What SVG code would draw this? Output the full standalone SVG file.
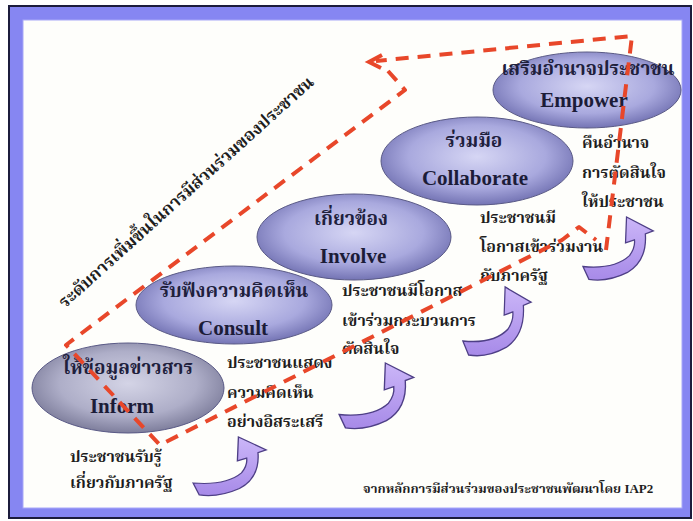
<svg xmlns="http://www.w3.org/2000/svg" xmlns:xlink="http://www.w3.org/1999/xlink" width="693" height="521" viewBox="0 0 693 521">
<defs>
<radialGradient id="gEl" cx="50%" cy="45%" r="55%">
<stop offset="0" stop-color="#d6d6f4"/>
<stop offset="0.65" stop-color="#a9a9de"/>
<stop offset="1" stop-color="#7474b4"/>
</radialGradient>
<radialGradient id="gGray" cx="50%" cy="45%" r="55%">
<stop offset="0" stop-color="#d4d4e6"/>
<stop offset="0.65" stop-color="#aeaec8"/>
<stop offset="1" stop-color="#7e7e9c"/>
</radialGradient>
<linearGradient id="gArr" x1="0" y1="0" x2="0" y2="1">
<stop offset="0" stop-color="#cbb6f8"/>
<stop offset="1" stop-color="#a78ae8"/>
</linearGradient>
<path id="arrow" d="M3,50 Q35,53 50,39 Q56,31 55,23 L46,26 L47,0 L74,14 L66,17 Q68,44 48,56 Q28,66 9,63 Z"/>
</defs>
<style>
.el{stroke:#5a5a86;stroke-width:1}
.th{font-family:"Liberation Serif","Noto Serif Thai","Noto Sans Thai",Garuda,Loma,serif;font-weight:bold}
.ttl{font-size:19px;fill:#20203c;text-anchor:middle}
.en{font-family:"Liberation Serif","Times New Roman",serif;font-weight:bold;font-size:21px;fill:#1c1c38;text-anchor:middle}
.ds{font-size:16px;fill:#1e1e1e}
.dash{fill:none;stroke:#e8472a;stroke-width:4;stroke-dasharray:13 9;stroke-linejoin:round}
.arr{fill:url(#gArr);stroke:#4e3f86;stroke-width:1.3}
</style>
<rect x="9" y="6" width="682" height="512" fill="#8686f2" stroke="#1c1c3c" stroke-width="2"/>
<rect x="23" y="20" width="659" height="488" fill="#fefefb" stroke="#a8a8f8" stroke-width="1"/>

<g id="inform">
<ellipse class="el" cx="128" cy="388" rx="96" ry="45" fill="url(#gGray)"/>
<text class="th ttl" x="128" y="374">ให้ข้อมูลข่าวสาร</text>
<text class="en" x="122" y="413">Inform</text>
<text class="th ds" x="70" y="462">ประชาชนรับรู้</text>
<text class="th ds" x="70" y="488">เกี่ยวกับภาครัฐ</text>
</g>
<g id="consult">
<ellipse class="el" cx="234" cy="305" rx="98" ry="39" fill="url(#gEl)"/>
<text class="th ttl" x="234" y="297">รับฟังความคิดเห็น</text>
<text class="en" x="233" y="335">Consult</text>
<text class="th ds" x="227" y="368">ประชาชนแสดง</text>
<text class="th ds" x="227" y="398">ความคิดเห็น</text>
<text class="th ds" x="227" y="427">อย่างอิสระเสรี</text>
</g>
<g id="involve">
<ellipse class="el" cx="354" cy="237" rx="97" ry="43" fill="url(#gEl)"/>
<text class="th ttl" x="351" y="225">เกี่ยวข้อง</text>
<text class="en" x="353" y="263">Involve</text>
<text class="th ds" x="342" y="296">ประชาชนมีโอกาส</text>
<text class="th ds" x="342" y="326">เข้าร่วมกระบวนการ</text>
<text class="th ds" x="342" y="354">ตัดสินใจ</text>
</g>
<g id="collaborate">
<ellipse class="el" cx="477" cy="161" rx="96" ry="44" fill="url(#gEl)"/>
<text class="th ttl" x="474" y="147">ร่วมมือ</text>
<text class="en" x="475" y="185">Collaborate</text>
<text class="th ds" x="480" y="223">ประชาชนมี</text>
<text class="th ds" x="480" y="252">โอกาสเข้าร่วมงาน</text>
<text class="th ds" x="480" y="281">กับภาครัฐ</text>
</g>
<g id="empower">
<ellipse class="el" cx="587" cy="90" rx="94" ry="38" fill="url(#gEl)"/>
<text class="th ttl" x="588" y="75">เสริมอำนาจประชาชน</text>
<text class="en" x="584" y="107">Empower</text>
<text class="th ds" x="582" y="148">คืนอำนาจ</text>
<text class="th ds" x="582" y="178">การตัดสินใจ</text>
<text class="th ds" x="582" y="207">ให้ประชาชน</text>
</g>

<g id="connectors">
<path class="dash" d="M388,71 L405,90 L66,345 L160,445 L562,240 L579,227 L596,240"/>
<path class="dash" d="M606,250 L632,36 L376,61"/>
<path d="M382,55 L369,62 L381,68" fill="none" stroke="#e8472a" stroke-width="4" stroke-linejoin="miter"/>
<use xlink:href="#arrow" class="arr" transform="translate(190,437) scale(1.03,0.92)"/>
<use xlink:href="#arrow" class="arr" transform="translate(336,363) scale(1.05,1.03)"/>
<use xlink:href="#arrow" class="arr" transform="translate(460,287) scale(0.96,1.08)"/>
<use xlink:href="#arrow" class="arr" transform="translate(580,217) scale(0.99,0.99)"/>
</g>

<text class="th" font-size="17" fill="#1e1e1e" text-anchor="middle" transform="translate(190,196) rotate(-42)">ระดับการเพิ่มขึ้นในการมีส่วนร่วมของประชาชน</text>
<text class="th" font-size="13" fill="#1e1e1e" x="363" y="493">จากหลักการมีส่วนร่วมของประชาชนพัฒนาโดย IAP2</text>
</svg>
